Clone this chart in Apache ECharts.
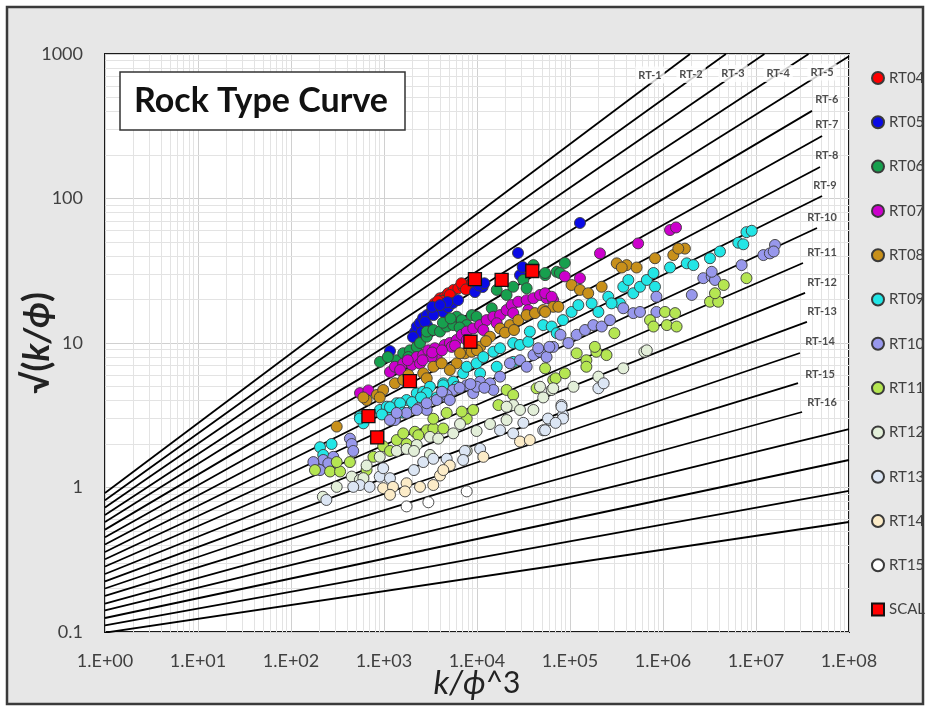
<!DOCTYPE html>
<html><head><meta charset="utf-8">
<script src="https://cdn.jsdelivr.net/npm/echarts@6/dist/echarts.min.js"></script>
<style>html,body{margin:0;padding:0;background:#fff}#c{width:931px;height:709px}</style>
</head><body><div id="c"></div>
<script>
const FONT = 'Lato, "Open Sans", sans-serif';
const xTickLabels = ['1.E+00','1.E+01','1.E+02','1.E+03','1.E+04','1.E+05','1.E+06','1.E+07','1.E+08'];
const yTickLabels = ['0.1','1','10','100','1000'];
const minorMantissas = [2,3,4,5,6,7,8,9];
const xDecades = [1,10,100,1e3,1e4,1e5,1e6,1e7];
const yDecades = [0.1,1,10,100];

// Rock type reference lines: value at x=1 and end point
const rtLineStart = [0.916,0.815,0.726,0.644,0.578,0.511,0.452,0.403,0.358,0.319,0.284,0.252,0.224,0.200,0.178,0.157,0.141,0.125,0.111,0.0989];
const rtLineEndX  = [1.95e6,4.75e6,1.23e7,3.67e7,1e8,4.0e7,5.13e7,4.88e7,5.13e7,4.53e7,3.2e7,3.37e7,3.53e7,2.97e7,2.83e7,3.13e7,1e8,1e8,1e8,1e8];
const rtLineEndY  = [1000,1000,1000,1000,966,404,271,165,104,62.5,35.8,22.2,14.0,8.53,5.28,3.33,2.54,1.55,0.946,0.577];

const rtLabelNames = ['RT-1','RT-2','RT-3','RT-4','RT-5','RT-6','RT-7','RT-8','RT-9','RT-10','RT-11','RT-12','RT-13','RT-14','RT-15','RT-16'];
const rtLabelX = [7.25e5,2.0e6,5.66e6,1.73e7,5.13e7,5.77e7,5.77e7,5.77e7,5.52e7,5.13e7,5.13e7,5.13e7,5.13e7,4.88e7,4.88e7,5.13e7];
const rtLabelY = [716,722,733,733,750,481,323,197,124,74.5,42,26.4,16.6,10.2,6.1,3.9];

const seriesNames = ['RT04','RT05','RT06','RT07','RT08','RT09','RT10','RT11','RT12','RT13','RT14','RT15'];
const seriesColors = ['#ff0000','#0a0ae6','#17a04e','#cc00cc','#c8901a','#22e6e6','#9898ec','#b5e652','#e3efd9','#dce6f4','#fcecc8','#ffffff'];

const rt04 = [[3500,18.8],[4000,20.4],[4500,20.9],[4900,22.1],[5600,23.3],[6300,23.9],[7100,24.5],[8100,25.2],[8800,25.9],[6800,25.9],[4200,19.6],[5100,21.5],[3800,19.5],[7600,23.5]];
const rt05 = [[1160,8.8],[2150,11.9],[2250,13],[2440,13.8],[2630,14.9],[2900,15.6],[3300,16.9],[3700,16.9],[4300,16.4],[4900,17.7],[5500,18.9],[4800,19.2],[3400,15.6],[2900,13.3],[2550,11.9],[2050,11],[10000,25.2],[11500,24.4],[9500,22.5],[27600,42],[29000,29.5],[31000,33.6],[128000,67.7],[10500,25],[12000,25.9],[3300,17.8],[2760,14],[4000,18.3],[6250,19.8]];
const rt06 = [[1370,7.6],[1610,8.5],[1900,8.9],[1830,8.0],[2250,9.4],[2440,10],[2880,11.05],[2880,12],[3390,12.3],[4000,12],[4720,13],[5550,13.3],[6050,15.2],[6850,14.4],[7750,13.3],[8800,15.6],[9900,15.2],[14400,17.4],[16300,23.3],[20800,21.5],[24500,24.5],[31500,27.3],[34200,23.9],[40400,34.6],[54000,29.5],[72000,31.1],[78000,30.5],[88000,35.8],[54000,30.5],[905,7.4],[1100,8.0],[4300,13.8],[5200,14.8],[6500,12.8]];
const rt07 = [[552,4.5],[680,4.7],[1160,6.3],[1310,6.85],[1610,7.2],[1990,7.05],[2250,8.0],[2640,8.25],[3000,8.9],[3530,9.2],[3680,8.0],[4500,9.7],[5100,10],[6050,10.5],[6850,11.4],[7750,12],[9100,12.6],[10800,13.3],[12700,14.4],[15000,15.2],[17700,15.6],[20800,16.9],[23600,18.3],[27800,19.3],[34200,19.8],[40400,20.4],[47600,21.5],[56000,20.4],[66000,19.8],[35600,16.9],[24500,16.1],[16300,13.7],[11700,12.3],[7750,10.5],[5350,9.4],[3250,8.0],[2440,7.2],[1490,6.5],[54000,22.1],[63500,20.9],[88000,28.9],[128000,28.1],[210000,41.7],[540000,48.9],[1190000,60.5],[1380000,63],[1800,7.6],[2600,7.6],[3300,8.6],[4200,8.9],[5800,9.6]];
const rt08 = [[310,2.64],[650,4.03],[840,4.37],[980,4.73],[1310,5.26],[1610,5.55],[1830,6.0],[2640,6.17],[3390,6.85],[4170,7.24],[6050,7.24],[7400,8.48],[10800,9.43],[13800,11.05],[17700,12.6],[22600,13.3],[27800,14.4],[34200,15.6],[42000,16.1],[51500,16.9],[66000,17.8],[6570,8.5],[8750,8.7],[5100,6.5],[2880,5.7],[900,4.2],[600,4.2],[54000,16.4],[75000,17.8],[104000,25.2],[128000,23.3],[157000,22.1],[219000,24.5],[318000,35.6],[407000,34.6],[360000,33.3],[520000,33.3],[820000,38.6],[1290000,40.6],[1720000,45],[1460000,45],[10000,8.9],[12500,10.3],[20000,11.8],[25000,12.3]];
const rt09 = [[552,3.1],[600,2.78],[905,3.44],[1070,3.62],[1370,3.83],[1750,4.03],[2250,4.49],[2640,4.6],[3120,4.98],[4340,5.26],[5550,5.4],[7100,6.17],[7750,6.85],[9900,7.24],[11700,8.0],[15000,8.7],[17700,9.2],[24500,10],[29000,9.7],[35600,10.2],[37000,12],[51500,13.3],[63500,13],[72000,11.7],[24500,7.4],[16300,6.85],[10800,6.17],[6050,4.98],[3680,4.2],[2100,3.62],[1250,3.28],[205,1.9],[273,2.0],[222,1.68],[550,3.0],[1160,3.6],[1490,3.83],[2880,4.5],[4340,5.1],[84000,14.4],[104000,16.4],[123000,18.3],[171000,18.8],[202000,16.4],[258000,20.9],[345000,18.8],[374000,24.5],[479000,22.1],[566000,24.5],[670000,27.3],[790000,30.5],[820000,24.5],[1190000,33.3],[1800000,35.6],[2120000,34.6],[3200000,38.6],[4100000,43],[6450000,49.4],[7300000,48.2],[7900000,58.5],[9000000,59.8],[424000,27.3],[280000,18.8],[950,3.2],[1300,3.0],[1600,3.3],[2000,3.9],[2500,4.2]];
const rt10 = [[430,2.18],[1310,2.93],[2340,3.53],[2880,3.44],[4720,4.2],[5550,4.73],[7750,5.1],[10800,5.4],[13800,5.26],[17700,5.85],[22600,7.24],[29000,7.6],[40400,8.25],[47600,8.7],[66000,9.4],[56000,8.0],[34200,6.85],[15000,4.73],[9100,4.5],[3680,4.03],[1750,3.28],[2880,3.83],[222,1.55],[205,1.32],[285,1.63],[450,2.0],[467,1.79],[1160,2.93],[1370,3.28],[2250,3.44],[4720,4.37],[5100,4.03],[9900,4.98],[174,1.5],[252,1.47],[45500,9.2],[60000,9.4],[79000,11.4],[96000,10],[118000,11.4],[145000,12.3],[178000,13.3],[219000,13],[269000,14.4],[374000,17.4],[479000,16.1],[566000,16.4],[850000,20.9],[850000,16.4],[2040000,21.5],[2710000,28.1],[3340000,28.9],[3620000,27.3],[3340000,31.1],[7000000,34.6],[12000000,40.6],[14100000,41.7],[16000000,47.7],[15500000,43],[4200,4.6],[6500,4.9],[8500,5.2],[12000,4.9]];
const rt11 = [[181,1.32],[263,1.29],[337,1.29],[310,1.5],[430,1.5],[770,1.63],[980,1.93],[1160,1.79],[1370,2.13],[1610,2.37],[2150,2.43],[2880,2.49],[3390,2.56],[4340,2.56],[3390,2.99],[4720,3.28],[7750,2.99],[6850,3.35],[9100,3.44],[17000,3.72],[20800,4.73],[24500,4.37],[43700,4.86],[66000,5.55],[2340,2.3],[1750,2.0],[650,1.32],[54000,6.68],[70000,5.7],[88000,6.17],[118000,8.48],[150000,7.6],[192000,8.7],[185000,9.4],[247000,8.25],[300000,11.7],[150000,6.85],[725000,14.4],[1050000,16.4],[1350000,16.1],[790000,13],[1100000,13.3],[1400000,13],[3200000,19.3],[3920000,19.3],[3620000,22.1],[4500000,25.2],[7900000,28.1]];
const rt12 = [[220,0.863],[310,1.01],[450,1.19],[550,1.13],[650,1.42],[900,1.63],[1370,1.79],[1750,1.85],[2250,1.97],[3120,2.24],[3830,2.18],[5550,2.37],[6570,2.75],[9900,2.46],[13800,2.75],[20800,2.93],[24500,3.72],[29000,3.44],[40400,3.44],[51500,4.2],[20800,3.62],[47600,4.98],[63500,4.73],[109000,4.98],[2100,1.79],[3120,1.68],[7750,1.79],[600,1.16],[66000,4.86],[202000,5.85],[374000,6.68],[630000,8.7],[670000,8.9]];
const rt13 = [[240,0.82],[550,1.04],[700,1.01],[900,1.19],[1160,1.16],[2100,1.32],[2640,1.5],[3390,1.58],[4720,1.58],[7400,1.79],[10800,1.85],[17700,2.49],[24500,2.37],[31500,2.8],[51500,2.49],[60000,2.93],[81000,3.72],[84000,3.17],[980,1.36],[467,1.01],[7100,1.55],[54000,2.49],[58000,3.0],[81000,3.62],[84000,3.0],[70000,2.8],[202000,4.86],[230000,5.26]];
const rt14 = [[980,0.99],[1250,1.01],[1750,1.07],[2440,1.01],[3390,1.04],[4000,1.21],[5100,1.42],[4340,1.32],[11700,1.63],[29000,2.08],[37000,2.13],[1160,0.89],[1680,0.94]];
const rt15 = [[1750,0.74],[3000,0.79],[7750,0.94]];
const scal = [[9500,27.7],[18400,27.3],[39300,31.5],[8500,10.2],[1900,5.45],[680,3.12],[845,2.22]];
const seriesData = [rt04,rt05,rt06,rt07,rt08,rt09,rt10,rt11,rt12,rt13,rt14,rt15];

const minorX = xDecades.flatMap(d => minorMantissas.map(m => m * d));
const minorY = yDecades.flatMap(d => minorMantissas.map(m => m * d));

const series = [];
series.push({
  type: 'line', name: 'minorGrid', data: [], silent: true, z: 1,
  markLine: {
    silent: true, symbol: ['none', 'none'], animation: false, z: 1,
    label: { show: false },
    lineStyle: { color: '#e3e3e3', type: 'solid', width: 1 },
    emphasis: { disabled: true },
    data: minorX.map(v => ({ xAxis: v })).concat(minorY.map(v => ({ yAxis: v })))
  }
});
rtLineStart.forEach((s, i) => {
  series.push({
    type: 'line', name: 'line' + i, silent: true, symbol: 'none', z: 2,
    data: [[1, s], [rtLineEndX[i], rtLineEndY[i]]],
    lineStyle: { color: '#000', width: 1.8, type: 'solid' }
  });
});
series.push({
  type: 'scatter', name: 'rtLabels', silent: true, symbolSize: 1, z: 3,
  itemStyle: { color: 'rgba(0,0,0,0)' },
  data: rtLabelNames.map((n, i) => ({
    value: [rtLabelX[i], rtLabelY[i]], name: n,
    label: i < 5 ? { backgroundColor: '#fff', padding: [3, 3] } : {}
  })),
  label: { show: true, position: 'inside', formatter: p => p.name, fontSize: 11, fontWeight: 'bold', color: '#222', fontFamily: FONT }
});
seriesNames.forEach((n, i) => {
  series.push({
    type: 'scatter', name: n, data: seriesData[i], symbol: 'circle', symbolSize: 11, z: 4,
    itemStyle: { color: seriesColors[i], borderColor: '#3a3a3a', borderWidth: 0.9, opacity: 1 }
  });
});
series.push({
  type: 'scatter', name: 'SCAL', data: scal, symbol: 'rect', symbolSize: 13, z: 5,
  itemStyle: { color: '#ff0000', borderColor: '#111', borderWidth: 1.3, opacity: 1 }
});

const chart = echarts.init(document.getElementById('c'));
chart.setOption({
  animation: false,
  textStyle: { fontFamily: FONT },
  grid: { left: 105, top: 54, width: 744, height: 578, show: true, backgroundColor: '#fff', borderColor: '#1a1a1a', borderWidth: 2, containLabel: false, outerBoundsMode: 'none' },
  graphic: [
    { type: 'rect', z: -10, silent: true, shape: { x: 7, y: 7, width: 916, height: 697 }, style: { fill: '#e7e7e7', stroke: '#3a3a3a', lineWidth: 2.5 } },
    { type: 'rect', z: 10, silent: true, shape: { x: 120, y: 72, width: 285, height: 58 }, style: { fill: '#fff', stroke: '#333', lineWidth: 1.5 } },
    { type: 'text', z: 11, silent: true, x: 134, y: 101, style: { text: 'Rock Type Curve', fontSize: 34, fontWeight: 'bold', fontFamily: FONT, fill: '#111', verticalAlign: 'middle' } }
  ],
  legend: {
    orient: 'vertical', left: 866, top: 65, itemWidth: 12, itemHeight: 12, itemGap: 28.3,
    data: seriesNames.concat(['SCAL']),
    textStyle: { fontSize: 15, color: '#404040', fontFamily: FONT, lineHeight: 16 }
  },
  xAxis: {
    type: 'log', logBase: 10, min: 1, max: 1e8, splitNumber: 8,
    axisLine: { show: false }, axisTick: { show: false },
    axisLabel: { margin: 20, fontSize: 18, color: '#404040', fontFamily: FONT,
      formatter: v => xTickLabels[Math.round(Math.log10(v))] },
    splitLine: { show: true, lineStyle: { color: '#d0d0d0', width: 1 } },
    name: '{b|k/ϕ}{a|^3}', nameLocation: 'middle', nameGap: 35, nameMoveOverlap: false,
    nameTextStyle: { rich: {
      a: { fontSize: 30, fontFamily: FONT, color: '#222' },
      b: { fontSize: 33, fontStyle: 'italic', fontFamily: FONT, color: '#222' } } }
  },
  yAxis: {
    type: 'log', logBase: 10, min: 0.1, max: 1000, splitNumber: 4,
    axisLine: { show: false }, axisTick: { show: false },
    axisLabel: { margin: 22, fontSize: 18, color: '#404040', fontFamily: FONT,
      formatter: v => yTickLabels[Math.round(Math.log10(v)) + 1] },
    splitLine: { show: true, lineStyle: { color: '#d0d0d0', width: 1 } },
    name: '{a|√(}{b|k/ϕ}{a|)}', nameLocation: 'middle', nameGap: 50, nameRotate: 90, nameMoveOverlap: false,
    nameTextStyle: { rich: {
      a: { fontSize: 36, fontWeight: 'bold', fontFamily: FONT, color: '#222' },
      b: { fontSize: 36, fontWeight: 'bold', fontStyle: 'italic', fontFamily: FONT, color: '#222' } } }
  },
  series: series
});
</script>
</body></html>
